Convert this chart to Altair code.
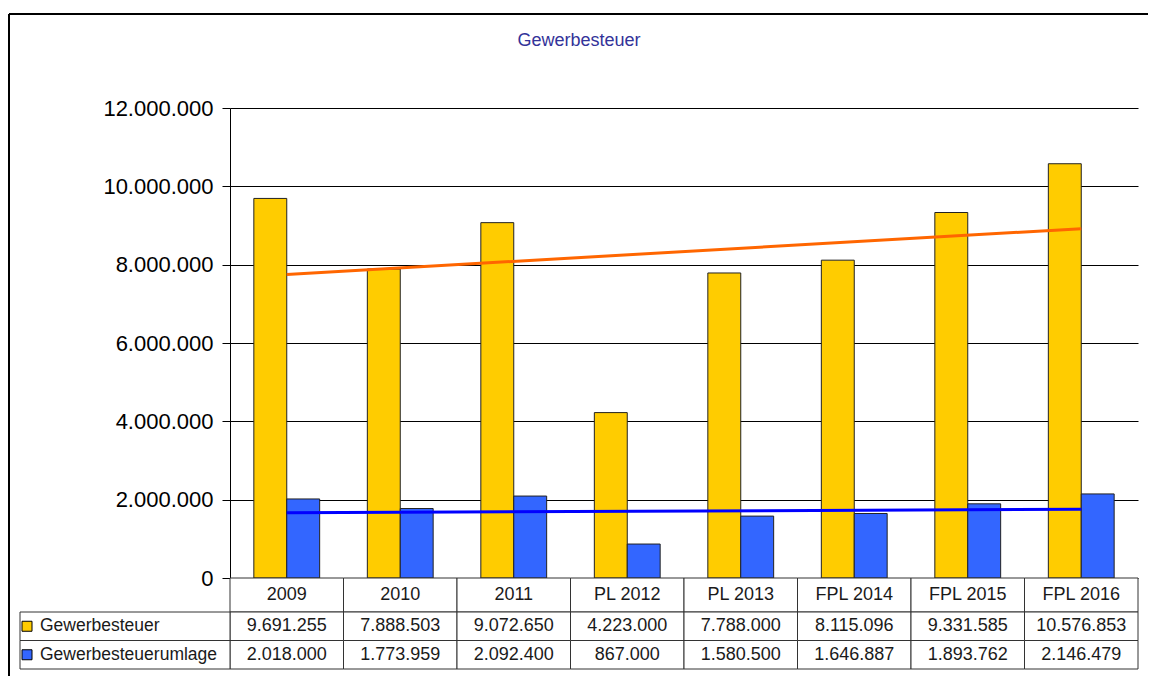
import altair as alt
import pandas as pd

categories = ["2009", "2010", "2011", "PL 2012", "PL 2013", "FPL 2014", "FPL 2015", "FPL 2016"]
series_names = ["Gewerbesteuer", "Gewerbesteuerumlage"]
gewerbesteuer = [9691255, 7888503, 9072650, 4223000, 7788000, 8115096, 9331585, 10576853]
umlage = [2018000, 1773959, 2092400, 867000, 1580500, 1646887, 1893762, 2146479]
# trend lines, read at first and last category
trend_gewerbesteuer = [7750000, 8920000]
trend_umlage = [1665000, 1755000]
y_ticks = [0, 2000000, 4000000, 6000000, 8000000, 10000000, 12000000]
bar_colors = ["#FFCC00", "#3366FF"]
trend_colors = ["#FF6600", "#0000FF"]

FONT = "Liberation Sans"


def de(v):
    return f"{v:,}".replace(",", ".")


bars_df = pd.DataFrame(
    [{"cat": c, "series": series_names[0], "value": v} for c, v in zip(categories, gewerbesteuer)]
    + [{"cat": c, "series": series_names[1], "value": v} for c, v in zip(categories, umlage)]
)
trend_df = pd.DataFrame(
    [{"cat": c, "series": series_names[0], "value": v} for c, v in zip([categories[0], categories[-1]], trend_gewerbesteuer)]
    + [{"cat": c, "series": series_names[1], "value": v} for c, v in zip([categories[0], categories[-1]], trend_umlage)]
)
one = pd.DataFrame({"a": [0]})

color_scale = alt.Scale(domain=series_names, range=bar_colors)
x_scale = alt.Scale(domain=categories, paddingInner=0.42, paddingOuter=0.21)
y_scale = alt.Scale(domain=[0, 12000000], nice=False, zero=True)

y_axis = alt.Axis(
    values=y_ticks,
    labelExpr="replace(format(datum.value, ',d'), regexp(',', 'g'), '.')",
    title=None,
    grid=True, gridColor="#000000", gridWidth=1,
    domainColor="#000000", domainWidth=1,
    tickColor="#000000", tickSize=8, tickWidth=1,
    labelPadding=9, labelFontSize=22, labelFont=FONT, labelColor="#000000",
)

bar_layer = alt.Chart(bars_df).mark_bar(stroke="#222222", strokeWidth=1).encode(
    x=alt.X("cat:N", scale=x_scale, axis=None),
    xOffset=alt.XOffset("series:N", scale=alt.Scale(domain=series_names)),
    y=alt.Y("value:Q", scale=y_scale, axis=y_axis),
    color=alt.Color("series:N", scale=color_scale, legend=None),
)

trend_layer = alt.Chart(trend_df).mark_line(strokeWidth=3).encode(
    x=alt.X("cat:N", scale=x_scale, axis=None),
    y=alt.Y("value:Q", scale=y_scale),
    detail="series:N",
    stroke=alt.Stroke("series:N", scale=alt.Scale(domain=series_names, range=trend_colors), legend=None),
)

frame_top = alt.Chart(one).mark_rule(color="#000000", strokeWidth=2).encode(
    x=alt.value(-221), x2=alt.value(918), y=alt.value(-94)
)
frame_left_top = alt.Chart(one).mark_rule(color="#000000", strokeWidth=2).encode(
    x=alt.value(-221), y=alt.value(-94), y2=alt.value(470)
)
title_mark = alt.Chart(one).mark_text(
    text="Gewerbesteuer", fontSize=18, font=FONT, color="#333399", align="center", baseline="alphabetic"
).encode(x=alt.value(349), y=alt.value(-62))

top = alt.layer(frame_top, frame_left_top, title_mark, bar_layer, trend_layer).properties(width=908, height=470)

# ---- data table below: category row ----
col_scale = alt.Scale(domain=categories, paddingInner=0, paddingOuter=0)
cat_df = pd.DataFrame({"col": categories})

cat_rects = alt.Chart(cat_df).mark_rect(fill="white", stroke="#333333", strokeWidth=1).encode(
    x=alt.X("col:N", scale=col_scale, axis=None),
)
cat_text = alt.Chart(cat_df).mark_text(fontSize=18, font=FONT, color="#1a1a1a").encode(
    x=alt.X("col:N", scale=col_scale, axis=None),
    text="col:N",
)
frame_left_mid = alt.Chart(one).mark_rule(color="#000000", strokeWidth=2).encode(
    x=alt.value(-221), y=alt.value(0), y2=alt.value(34)
)
cat_row = alt.layer(cat_rects, cat_text, frame_left_mid).properties(width=908, height=34)

# ---- data table below: value rows ----
cells = []
for i, c in enumerate(categories):
    cells.append({"col": c, "trow": series_names[0], "txt": de(gewerbesteuer[i])})
    cells.append({"col": c, "trow": series_names[1], "txt": de(umlage[i])})
cells_df = pd.DataFrame(cells)
legend_df = pd.DataFrame({"trow": series_names, "series": series_names})

row_scale = alt.Scale(domain=series_names, paddingInner=0, paddingOuter=0)

cell_rects = alt.Chart(cells_df).mark_rect(fill="white", stroke="#333333", strokeWidth=1).encode(
    x=alt.X("col:N", scale=col_scale, axis=None),
    y=alt.Y("trow:N", scale=row_scale, axis=None),
)
cell_text = alt.Chart(cells_df).mark_text(fontSize=18, font=FONT, color="#1a1a1a").encode(
    x=alt.X("col:N", scale=col_scale, axis=None),
    y=alt.Y("trow:N", scale=row_scale, axis=None),
    text="txt:N",
)
legend_rects = alt.Chart(legend_df).mark_rect(fill="white", stroke="#333333", strokeWidth=1).encode(
    x=alt.value(-210), x2=alt.value(0),
    y=alt.Y("trow:N", scale=row_scale, axis=None),
)
legend_squares = alt.Chart(legend_df).mark_square(size=100, filled=True, stroke="#000000", strokeWidth=1, opacity=1).encode(
    x=alt.value(-203),
    y=alt.Y("trow:N", scale=row_scale, axis=None),
    color=alt.Color("series:N", scale=color_scale, legend=None),
)
legend_text = alt.Chart(legend_df).mark_text(fontSize=17.5, font=FONT, color="#1a1a1a", align="left").encode(
    x=alt.value(-190),
    y=alt.Y("trow:N", scale=row_scale, axis=None),
    text="series:N",
)
frame_left_bottom = alt.Chart(one).mark_rule(color="#000000", strokeWidth=2).encode(
    x=alt.value(-221), y=alt.value(0), y2=alt.value(64)
)

value_rows = alt.layer(cell_rects, cell_text, legend_rects, legend_squares, legend_text, frame_left_bottom).properties(
    width=908, height=57
)

chart = (
    alt.vconcat(top, cat_row, value_rows, spacing=0, bounds="flush")
    .resolve_scale(x="independent", y="independent")
    .properties(padding={"left": 0, "top": 5, "right": 0, "bottom": 0})
    .configure_view(stroke=None)
)

chart.save("out.html", embed_options={"renderer": "svg", "actions": False})
